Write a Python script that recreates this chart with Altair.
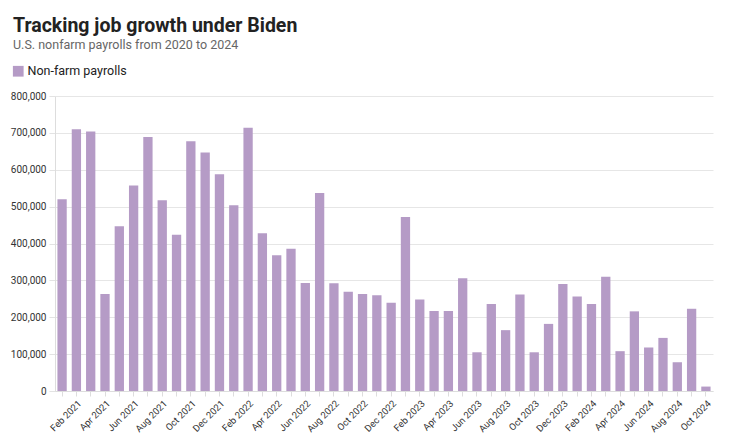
import altair as alt
import pandas as pd

months = ["Jan", "Feb", "Mar", "Apr", "May", "Jun", "Jul", "Aug", "Sep", "Oct", "Nov", "Dec"]
labels = [f"{m} {y}" for y in (2021, 2022, 2023, 2024) for m in months][:46]

payrolls = [
    520000, 710000, 704000, 263000, 447000, 557000, 689000, 517000, 424000, 677000, 647000, 588000,
    504000, 714000, 428000, 368000, 386000, 293000, 537000, 292000, 269000, 263000, 260000, 239000,
    472000, 248000, 217000, 217000, 306000, 105000, 236000, 165000, 262000, 105000, 182000, 290000,
    256000, 236000, 310000, 108000, 216000, 118000, 144000, 78000, 223000, 12000,
]
series = ["Non-farm payrolls"] * len(labels)

df = pd.DataFrame({"month": labels, "value": payrolls, "series": series})

FONT = "Roboto"

chart = alt.Chart(df).mark_bar(color="#b59bc6").encode(
    x=alt.X(
        "month:N",
        sort=labels,
        title=None,
        scale=alt.Scale(paddingInner=0.35, paddingOuter=0.17),
        axis=alt.Axis(
            labelAngle=-45,
            labelFontSize=9.5,
            labelColor="#333333",
            labelExpr="indexof(['Feb','Apr','Jun','Aug','Oct','Dec'], slice(datum.value, 0, 3)) >= 0 ? datum.value : ''",
            labelOverlap=False,
            tickSize=5,
            tickColor="#dddddd",
            domainColor="#dddddd",
            labelPadding=2,
        ),
    ),
    y=alt.Y(
        "value:Q",
        title=None,
        scale=alt.Scale(domain=[0, 800000]),
        axis=alt.Axis(
            values=[0, 100000, 200000, 300000, 400000, 500000, 600000, 700000, 800000],
            format=",.0f",
            labelFontSize=10,
            labelColor="#333333",
            tickSize=6,
            tickColor="#e3e3e3",
            gridColor="#e6e6e6",
            domainColor="#dddddd",
            labelPadding=3,
        ),
    ),
    color=alt.Color(
        "series:N",
        scale=alt.Scale(range=["#b59bc6"]),
        legend=alt.Legend(
            title=None,
            orient="none",
            legendX=-43,
            legendY=-31,
            symbolType="square",
            symbolSize=115,
            symbolStrokeWidth=0,
            labelFontSize=12.5,
            labelColor="#222222",
            labelFont=FONT,
            labelOffset=3,
        ),
    ),
).properties(
    width=658,
    height=295,
    padding={"left": 47, "top": 88, "right": 19, "bottom": 45},
    autosize=alt.AutoSizeParams(type="none"),
    title=alt.TitleParams(
        text="Tracking job growth under Biden",
        subtitle="U.S. nonfarm payrolls from 2020 to 2024",
        anchor="start",
        frame="group",
        dx=-42,
        offset=13,
        font=FONT,
        fontSize=19.5,
        fontWeight="bold",
        color="#222222",
        subtitleFont=FONT,
        subtitleFontSize=12.5,
        subtitleColor="#666666",
        subtitlePadding=2,
    ),
).configure_view(stroke=None).configure_axis(labelFont=FONT)

chart.save("out.html", embed_options={"renderer": "svg", "actions": False})
